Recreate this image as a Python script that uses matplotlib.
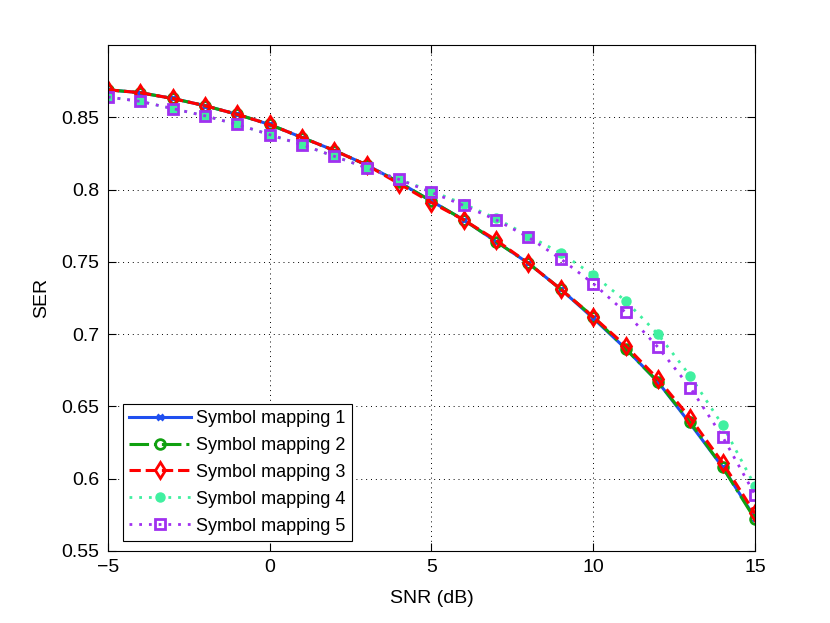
import numpy as np
import matplotlib
matplotlib.use('Agg')
import matplotlib.pyplot as plt

plt.rcParams['font.family'] = ['Liberation Sans', 'DejaVu Sans']

# SNR points (dB)
snr = np.arange(-5, 16)

# SER values
ser_map1 = [0.869, 0.867, 0.863, 0.858, 0.852, 0.845, 0.836, 0.827, 0.817, 0.805,
            0.792, 0.779, 0.764, 0.749, 0.731, 0.711, 0.690, 0.667, 0.638, 0.608, 0.573]
ser_map2 = [0.869, 0.867, 0.863, 0.858, 0.852, 0.845, 0.836, 0.827, 0.817, 0.805,
            0.792, 0.779, 0.764, 0.749, 0.731, 0.712, 0.690, 0.667, 0.639, 0.608, 0.572]
ser_map3 = [0.869, 0.867, 0.863, 0.858, 0.852, 0.845, 0.836, 0.827, 0.817, 0.804,
            0.791, 0.779, 0.765, 0.749, 0.731, 0.712, 0.692, 0.669, 0.642, 0.611, 0.576]
ser_map4 = [0.864, 0.861, 0.856, 0.851, 0.845, 0.838, 0.831, 0.823, 0.815, 0.807,
            0.799, 0.790, 0.780, 0.768, 0.756, 0.741, 0.723, 0.700, 0.671, 0.637, 0.595]
ser_map5 = [0.864, 0.861, 0.856, 0.851, 0.845, 0.838, 0.831, 0.823, 0.815, 0.807,
            0.798, 0.789, 0.779, 0.767, 0.752, 0.735, 0.715, 0.691, 0.663, 0.629, 0.589]

fig = plt.figure(figsize=(8.3, 6.23), dpi=100)
ax = fig.add_axes([0.13, 0.1156, 0.7796, 0.8122])

dots = (0, (1, 2.5))
ax.plot(snr, ser_map1, '-', color='#1f4ff0', lw=2.2, marker='x', ms=5, mew=2,
        label='Symbol mapping 1')
ax.plot(snr, ser_map2, '-.', color='#10a010', lw=2.2, marker='o', ms=7, mew=2,
        mfc='none', label='Symbol mapping 2')
ax.plot(snr, ser_map3, '--', color='#ff0000', lw=2.2, marker='d', ms=8.5, mew=2,
        mfc='none', label='Symbol mapping 3')
ax.plot(snr, ser_map4, linestyle=dots, color='#40f0a0', lw=2, marker='o', ms=6.5,
        mec='#40f0a0', mfc='#40f0a0', label='Symbol mapping 4')
ax.plot(snr, ser_map5, linestyle=dots, color='#a030f0', lw=2, marker='s', ms=7, mew=2,
        mfc='none', label='Symbol mapping 5')

ax.set_xlim(-5, 15)
ax.set_ylim(0.55, 0.9)
ax.set_xticks([-5, 0, 5, 10, 15])
ax.set_xticklabels(['\u22125', '0', '5', '10', '15'])
ax.set_yticks([0.55, 0.6, 0.65, 0.7, 0.75, 0.8, 0.85])
ax.set_yticklabels(['0.55', '0.6', '0.65', '0.7', '0.75', '0.8', '0.85'])
ax.tick_params(direction='in', labelsize=14, top=True, right=True, length=6, pad=6)
ax.grid(True, linestyle=(0, (1, 4)), color='black', lw=0.7)
ax.set_xlabel('SNR (dB)', fontsize=14, labelpad=10)
ax.set_ylabel('SER', fontsize=14, labelpad=8)

leg = ax.legend(loc='lower left', bbox_to_anchor=(15 / 647, 10 / 506), borderaxespad=0,
                fontsize=13, fancybox=False, edgecolor='black', framealpha=1,
                handlelength=3.4, handletextpad=0.3, labelspacing=0.55, borderpad=0.35)
leg.get_frame().set_linewidth(0.8)

fig.savefig('out.png', dpi=100)
